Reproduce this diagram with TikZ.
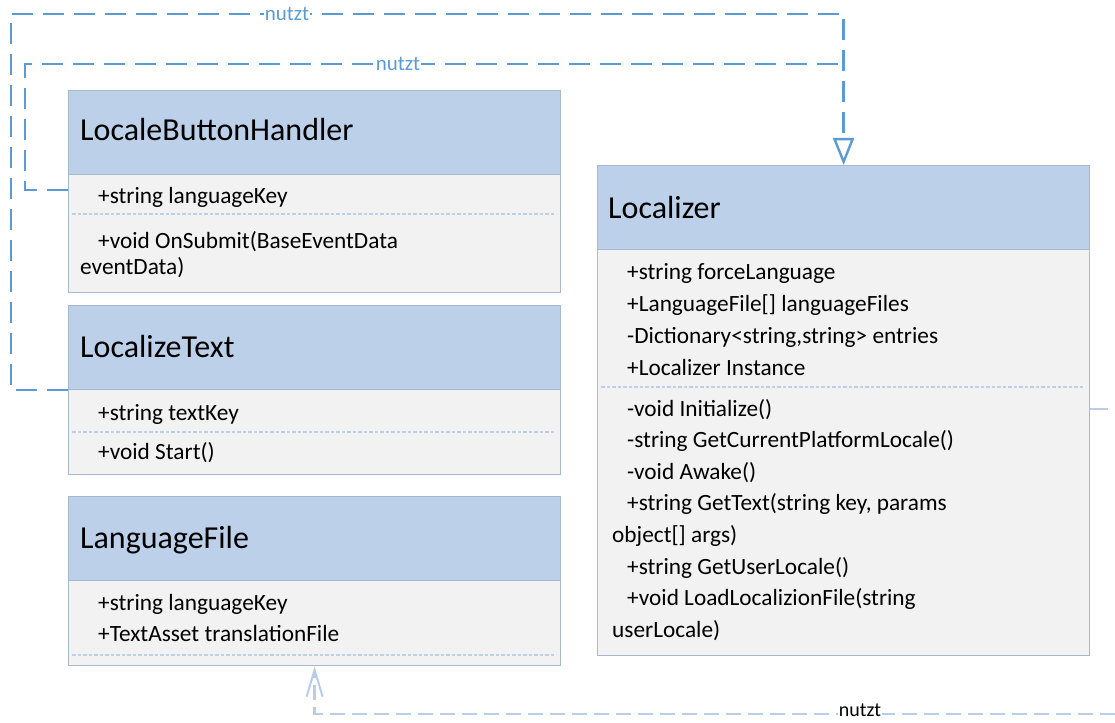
\documentclass[tikz,border=0pt]{standalone}
\usepackage{fontspec}
\setmainfont{Carlito}
\usetikzlibrary{arrows.meta,calc}
\definecolor{hdrfill}{HTML}{BCD0E9}
\definecolor{bodyfill}{HTML}{F2F2F2}
\definecolor{boxline}{HTML}{A7B9D1}
\definecolor{conn}{HTML}{5B9BD5}
\definecolor{connlight}{HTML}{B9CDE9}
\definecolor{sepline}{HTML}{BDD0EA}
\tikzset{
  classhdr/.style={draw=boxline, fill=hdrfill, line width=1.2pt, anchor=north west,
    inner sep=0pt, minimum width=492pt},
  classbody/.style={draw=boxline, fill=bodyfill, line width=1.2pt, anchor=north west,
    inner sep=0pt, minimum width=492pt},
  title/.style={anchor=base west, inner sep=0pt, font=\fontsize{32}{38}\selectfont},
  member/.style={anchor=base west, inner sep=0pt, font=\fontsize{23.3}{28}\selectfont},
  sep/.style={draw=sepline, line width=1.6pt, dash pattern=on 3.5pt off 2pt},
  uses/.style={draw=conn, line width=2.4pt, dash pattern=on 21pt off 10pt},
  useslight/.style={draw=connlight, line width=2.4pt, dash pattern=on 15pt off 7pt},
  usetag/.style={fill=white, inner sep=0.5pt, font=\fontsize{21}{24}\selectfont}
}
\begin{document}
\begin{tikzpicture}[x=1pt, y=-1pt]
\useasboundingbox (0,0) rectangle (1115,722);

% ---- LocaleButtonHandler ----
\node[classhdr, minimum height=84pt] (lbhH) at (68,90) {};
\node[classbody, minimum height=118pt] (lbhB) at (68,174) {};
\node[title] (lbhT) at (80,141) {LocaleButtonHandler};
\node[member] (lbh1) at (98,204) {+string languageKey};
\draw[sep] (72,214) -- (556,214);
\node[member] (lbh2) at (98,248) {+void OnSubmit(BaseEventData};
\node[member] (lbh3) at (80,274) {eventData)};

% ---- LocalizeText ----
\node[classhdr, minimum height=84pt] (ltH) at (68,305) {};
\node[classbody, minimum height=85pt] (ltB) at (68,389) {};
\node[title] (ltT) at (80,357) {LocalizeText};
\node[member] (lt1) at (98,420) {+string textKey};
\draw[sep] (72,432) -- (556,432);
\node[member] (lt2) at (98,459) {+void Start()};

% ---- LanguageFile ----
\node[classhdr, minimum height=84pt] (lfH) at (68,496) {};
\node[classbody, minimum height=85pt] (lfB) at (68,580) {};
\node[title] (lfT) at (80,548) {LanguageFile};
\node[member] (lf1) at (98,610) {+string languageKey};
\node[member] (lf2) at (98,641) {+TextAsset translationFile};
\draw[sep] (72,655) -- (556,655);

% ---- Localizer ----
\node[classhdr, minimum height=84pt] (locH) at (597,165) {};
\node[classbody, minimum height=406pt] (locB) at (597,249) {};
\node[title] (locT) at (608,218) {Localizer};
\node[member] (loc1) at (627,279) {+string forceLanguage};
\node[member] (loc2) at (627,311) {+LanguageFile[] languageFiles};
\node[member] (loc3) at (627,343) {-Dictionary<string,string> entries};
\node[member] (loc4) at (627,375) {+Localizer Instance};
\draw[sep] (601,387) -- (1085,387);
\node[member] (loc5) at (627,416) {-void Initialize()};
\node[member] (loc6) at (627,447.6) {-string GetCurrentPlatformLocale()};
\node[member] (loc7) at (627,479.2) {-void Awake()};
\node[member] (loc8) at (627,510.8) {+string GetText(string key, params};
\node[member] (loc9) at (612,542.4) {object[] args)};
\node[member] (loc10) at (627,574) {+string GetUserLocale()};
\node[member] (loc11) at (627,605.6) {+void LoadLocalizionFile(string};
\node[member] (loc12) at (612,637.2) {userLocale)};

% ---- dependencies ----
\coordinate (outerL) at (11,14);
\coordinate (innerL) at (25,64);
\coordinate (outerR) at (locH.north |- outerL);
\coordinate (innerR) at (locH.north |- innerL);
\coordinate (lbhIn) at ($(lbhB.north west)+(0,16)$);
\coordinate (stubEnd) at (1108,409);
\coordinate (farRight) at (1115,714);
\coordinate (lfFoot) at (lfB.south |- farRight);

\draw[uses, -{Triangle[open, length=27pt, width=21pt, line width=2.4pt]}]
  (ltH.south west) -| (outerL) -- (outerR) -- (locH.north);
\draw[uses] (lbhIn) -| (innerL) -- (innerR);
\node[usetag, text=conn] at (287,14) {nutzt};
\node[usetag, text=conn] at (398,64) {nutzt};

\draw[draw=connlight, line width=2pt] (locB.east |- stubEnd) -- (stubEnd);
\draw[useslight, -{Straight Barb[length=27pt, width=16pt, line width=2pt]}]
  (farRight) -- (lfFoot) -- (lfB.south);
\node[usetag, text=black, anchor=base, font=\fontsize{20}{24}\selectfont] at (860,716.5) {nutzt};
\end{tikzpicture}
\end{document}
